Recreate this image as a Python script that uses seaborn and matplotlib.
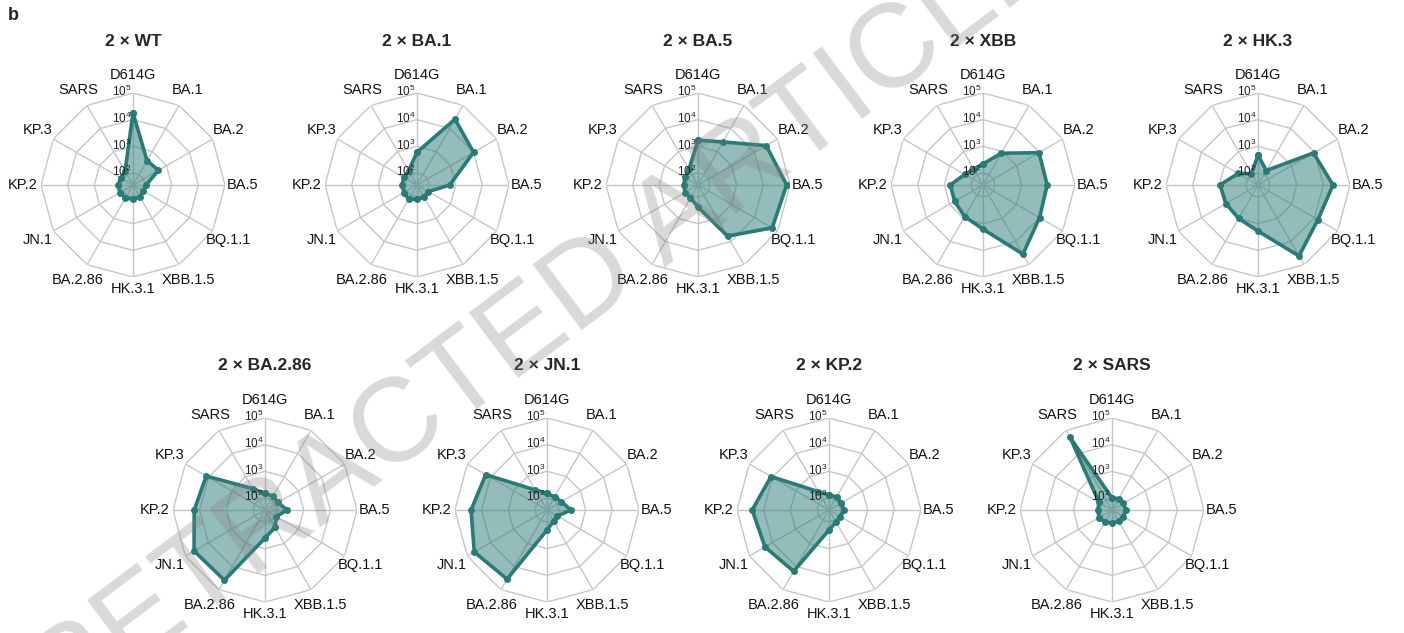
import numpy as np
import pandas as pd
import matplotlib
matplotlib.use("Agg")
import matplotlib.pyplot as plt
import seaborn as sns

# pseudovirus axes, clockwise from the top
variants = ["D614G", "BA.1", "BA.2", "BA.5", "BQ.1.1", "XBB.1.5", "HK.3.1",
            "BA.2.86", "JN.1", "KP.2", "KP.3", "SARS"]
titles = ["2 × WT", "2 × BA.1", "2 × BA.5", "2 × XBB", "2 × HK.3",
          "2 × BA.2.86", "2 × JN.1", "2 × KP.2", "2 × SARS"]

# NT50 titres
wt = [18000, 400, 450, 110, 100, 120, 120, 130, 130, 130, 120, 140]
ba1 = [600, 25000, 10000, 600, 110, 120, 120, 150, 130, 130, 130, 150]
ba5 = [1700, 2600, 32000, 75000, 58000, 5800, 240, 130, 130, 120, 130, 170]
xbb = [220, 840, 9500, 9000, 10000, 35000, 1600, 830, 600, 600, 220, 170]
hk3 = [470, 150, 9000, 23000, 14000, 42000, 1900, 1000, 870, 940, 260, 110]
ba286 = [150, 140, 130, 240, 110, 200, 400, 39000, 42000, 16000, 12500, 300]
jn1 = [150, 130, 150, 280, 100, 110, 200, 35000, 50000, 25000, 16000, 260]
kp2 = [130, 130, 120, 130, 110, 120, 200, 16000, 21000, 27000, 11500, 220]
sars = [100, 110, 110, 120, 110, 110, 110, 120, 130, 120, 130, 50000]
panels = [wt, ba1, ba5, xbb, hk3, ba286, jn1, kp2, sars]

ring_levels = [2, 3, 4, 5]

sns.set_theme(style="white")
plt.rcParams["font.family"] = ["Liberation Sans", "DejaVu Sans"]
plt.rcParams["mathtext.default"] = "regular"

W, H = 1404, 633
fig = plt.figure(figsize=(W / 100, H / 100), dpi=100)

centers = [(133, 185), (417, 185), (698, 185), (983, 185), (1258, 185),
           (265, 510), (547, 510), (829, 510), (1112, 510)]
R = 92
rmin, rmax = 1.55, 5.0
line_c = "#2a7b78"
grid_c = "#c6c6c6"

theta = np.linspace(0, 2 * np.pi, len(variants), endpoint=False)
theta_c = np.append(theta, 2 * np.pi)

for (cx, cy), title, vals in zip(centers, titles, panels):
    ax = fig.add_axes([(cx - R) / W, 1 - (cy + R) / H, 2 * R / W, 2 * R / H],
                      projection="polar")
    ax.set_theta_zero_location("N")
    ax.set_theta_direction(-1)
    ax.grid(False)
    ax.spines["polar"].set_visible(False)
    ax.patch.set_alpha(0)

    # polygon grid
    for lv in ring_levels:
        ax.plot(theta_c, [lv] * len(theta_c), color=grid_c, lw=1, zorder=1)
    for t in theta:
        ax.plot([t, t], [rmin, rmax], color=grid_c, lw=1, zorder=1)

    logv = np.log10(vals)
    df = pd.DataFrame({"theta": theta_c, "r": np.append(logv, logv[0])})
    ax.fill(df["theta"], df["r"], color=line_c, alpha=0.5, lw=0, zorder=2)
    sns.lineplot(data=df, x="theta", y="r", sort=False, estimator=None,
                 color=line_c, lw=2.6, marker="o", markersize=5,
                 markeredgewidth=0, ax=ax, zorder=3)

    ax.set_ylim(rmin, rmax)
    ax.set_xticks([])
    ax.set_yticks([])
    ax.set_xlabel("")
    ax.set_ylabel("")

    for t, name in zip(theta, variants):
        pix = 104 if abs(t - np.pi) < 0.1 else 110
        rl = rmin + pix / R * (rmax - rmin)
        ax.text(t, rl, name, ha="center", va="center", fontsize=10.5,
                color="#111111", clip_on=False)
    for lv in ring_levels:
        ax.annotate(f"$10^{{{lv}}}$", xy=(0, lv), xytext=(-1, 1),
                    textcoords="offset points", ha="right", va="center",
                    fontsize=8.5, color="#222222", zorder=4)

    fig.text(cx / W, 1 - (cy - 144) / H, title, ha="center", va="center",
             fontsize=12.5, fontweight="bold")

fig.text(8 / W, 1 - 16 / H, "b", ha="left", va="center", fontsize=13,
         fontweight="bold")

# watermark
fig.text(545 / W, 1 - 320 / H, "RETRACTED ARTICLE", rotation=37,
         ha="center", va="center", fontsize=86, color="#808080", alpha=0.3,
         zorder=10)

fig.savefig("out.png", dpi=100)
